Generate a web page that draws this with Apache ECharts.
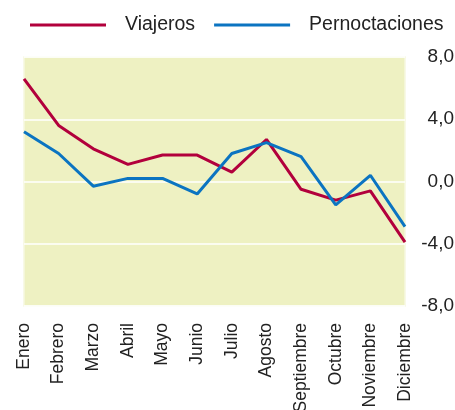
<!DOCTYPE html>
<html>
<head>
    <meta charset="utf-8">
    <title>Viajeros y Pernoctaciones</title>
    <script src="https://cdn.jsdelivr.net/npm/echarts@6/dist/echarts.min.js"></script>
    <style>
        body { margin: 0; background: #fff; }
    </style>
</head>
<body>
<div id="main" style="width: 455px;height:410px;"></div>
<script type="text/javascript">
    // meses (eje x)
    var meses = ['Enero', 'Febrero', 'Marzo', 'Abril', 'Mayo', 'Junio', 'Julio', 'Agosto',
        'Septiembre', 'Octubre', 'Noviembre', 'Diciembre'];
    // tasas de variacion
    var viajeros = [6.6, 3.6, 2.1, 1.1, 1.7, 1.7, 0.6, 2.7, -0.5, -1.2, -0.6, -3.9];
    var pernoctaciones = [3.2, 1.8, -0.3, 0.2, 0.2, -0.8, 1.8, 2.5, 1.6, -1.5, 0.4, -2.9];
    var yTicks = [-8, -4, 0, 4, 8];

    var myChart = echarts.init(document.getElementById('main'));
    var fuente = '"Liberation Sans", Arial, sans-serif';

    var option = {
        animation: false,
        legend: {
            left: 30,
            top: 15,
            width: 440,
            padding: 0,
            icon: 'rect',
            itemWidth: 76,
            itemHeight: 3,
            itemGap: 19,
            textStyle: {
                fontFamily: fuente,
                fontSize: 19.5,
                color: '#222',
                padding: [0, 0, 0, 14]
            },
            data: ['Viajeros', 'Pernoctaciones']
        },
        grid: {
            left: 24,
            right: 50,
            top: 57,
            bottom: 104,
            outerBoundsMode: 'none',
            containLabel: false,
            show: true,
            backgroundColor: '#eef1c2',
            borderColor: '#f6f8e0',
            borderWidth: 1.5
        },
        xAxis: {
            type: 'category',
            boundaryGap: false,
            data: meses,
            axisLine: { show: false },
            axisTick: { show: false },
            axisLabel: {
                rotate: 90,
                margin: 17,
                interval: 0,
                fontFamily: fuente,
                fontSize: 17.5,
                color: '#222'
            }
        },
        yAxis: {
            type: 'value',
            position: 'right',
            min: yTicks[0],
            max: yTicks[yTicks.length - 1],
            interval: 4,
            axisLine: { show: false },
            axisTick: { show: false },
            splitLine: { lineStyle: { color: '#ffffff', width: 1.5 } },
            axisLabel: {
                align: 'right',
                margin: 49,
                fontFamily: fuente,
                fontSize: 19,
                color: '#222',
                formatter: function (v) {
                    return v.toFixed(1).replace('.', ',');
                }
            }
        },
        series: [{
            name: 'Viajeros',
            type: 'line',
            symbol: 'none',
            color: '#b2003c',
            lineStyle: { width: 3 },
            data: viajeros
        }, {
            name: 'Pernoctaciones',
            type: 'line',
            symbol: 'none',
            color: '#0b74c1',
            lineStyle: { width: 3 },
            data: pernoctaciones
        }]
    };
    myChart.setOption(option);
</script>
</body>
</html>
